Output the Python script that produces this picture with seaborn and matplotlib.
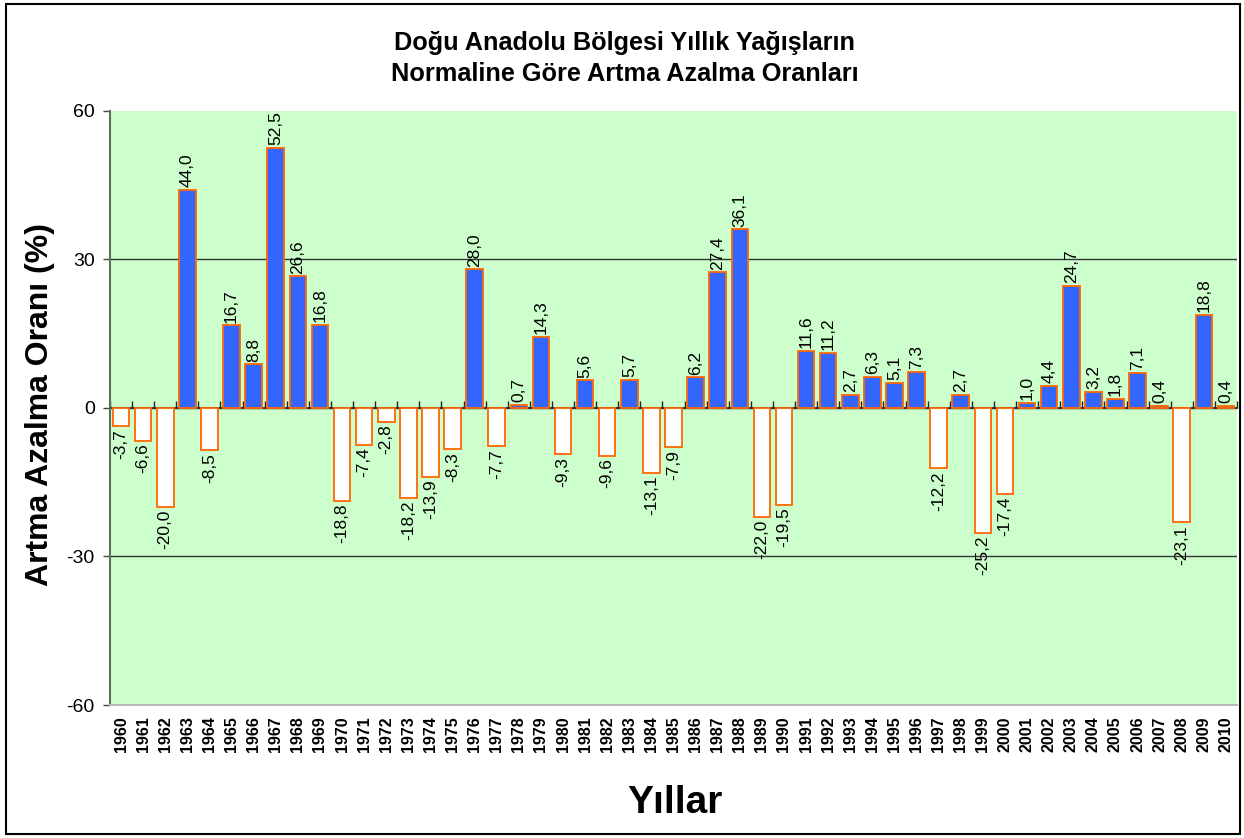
import matplotlib
matplotlib.use("Agg")
import matplotlib.pyplot as plt
from matplotlib.patches import Rectangle
import seaborn as sns
import pandas as pd

years = [str(y) for y in range(1960, 2011)]
values = [
    -3.7, -6.6, -20.0, 44.0, -8.5, 16.7, 8.8, 52.5, 26.6, 16.8,
    -18.8, -7.4, -2.8, -18.2, -13.9, -8.3, 28.0, -7.7, 0.7, 14.3,
    -9.3, 5.6, -9.6, 5.7, -13.1, -7.9, 6.2, 27.4, 36.1, -22.0,
    -19.5, 11.6, 11.2, 2.7, 6.3, 5.1, 7.3, -12.2, 2.7, -25.2,
    -17.4, 1.0, 4.4, 24.7, 3.2, 1.8, 7.1, 0.4, -23.1, 18.8,
    0.4,
]
y_ticks = [-60, -30, 0, 30, 60]

title_lines = ["Doğu Anadolu Bölgesi Yıllık Yağışların",
               "Normaline Göre Artma Azalma Oranları"]
y_title = "Artma Azalma Oranı (%)"
x_title = "Yıllar"

df = pd.DataFrame({"Yıl": years, "Oran": values})
df["Yön"] = ["artış" if v >= 0 else "azalış" for v in values]

sns.set_theme(style="white")
plt.rcParams["font.family"] = ["Liberation Sans", "DejaVu Sans"]
plt.rcParams["text.color"] = "black"
plt.rcParams["xtick.color"] = "black"
plt.rcParams["ytick.color"] = "black"

BLUE = "#3366FF"
ORANGE = "#FF6600"
PLOT_BG = "#CCFFCC"

fig = plt.figure(figsize=(12.44, 8.38), dpi=100)
fig.patch.set_facecolor("white")
ax = fig.add_axes([110 / 1244, 1 - 705 / 838, 1127 / 1244, 594 / 838])
ax.set_facecolor(PLOT_BG)

sns.barplot(data=df, x="Yıl", y="Oran", hue="Yön", order=years,
            hue_order=["artış", "azalış"],
            palette={"artış": BLUE, "azalış": "white"}, saturation=1,
            dodge=False, width=0.75, edgecolor=ORANGE, linewidth=1.3,
            legend=False, ax=ax, zorder=3)

ax.set_xlim(-0.5, len(years) - 0.5)
ax.set_ylim(-60, 60)
ax.set_yticks(y_ticks)
ax.set_yticklabels([str(t) for t in y_ticks], fontsize=14, color="black")
ax.tick_params(axis="y", direction="out", length=5, width=1, color="#444444",
               labelcolor="black", pad=6, left=True)
ax.tick_params(axis="x", length=0, pad=8, labelcolor="black")
plt.setp(ax.get_xticklabels(), rotation=90, fontsize=11.5, fontweight="bold",
         color="black")

# horizontal reference lines at the inner ticks
ax.yaxis.grid(True, color="#333333", linewidth=1)
for line, t in zip(ax.get_ygridlines(), y_ticks):
    if abs(t) == 60:
        line.set_visible(False)
ax.set_axisbelow(True)

for side in ["top", "right"]:
    ax.spines[side].set_visible(False)
ax.spines["left"].set_color("#5E6E5E")
ax.spines["left"].set_linewidth(1.5)
ax.spines["bottom"].set_color("#BBBBBB")
ax.spines["bottom"].set_linewidth(1.5)

# category axis crossing at zero, with ticks between categories
sec = ax.secondary_xaxis(0.5)
sec.set_xticks([i - 0.5 for i in range(len(years) + 1)])
sec.set_xticklabels([])
sec.tick_params(direction="out", length=5, width=1, color="#222222")
sec.spines["bottom"].set_color("#333333")
sec.spines["bottom"].set_linewidth(1.2)

# value labels
for cont in ax.containers:
    labels = [f"{v:.1f}".replace(".", ",") for v in cont.datavalues]
    ax.bar_label(cont, labels=labels, rotation=90, padding=2,
                 fontsize=12.5, color="black")

ax.set_xlabel("")
ax.set_ylabel("")

fig.text(625 / 1244, 1 - 43 / 838, title_lines[0], ha="center", va="center",
         fontsize=18.2, fontweight="bold", color="black")
fig.text(625 / 1244, 1 - 74 / 838, title_lines[1], ha="center", va="center",
         fontsize=18.2, fontweight="bold", color="black")
fig.text(40 / 1244, 1 - 405 / 838, y_title, rotation=90, ha="center",
         va="center", fontsize=23, fontweight="bold", color="black")
fig.text(675 / 1244, 1 - 803 / 838, x_title, ha="center", va="center",
         fontsize=28, fontweight="bold", color="black")

fig.patches.append(Rectangle((6 / 1244, 4 / 838), 1234 / 1244, 830 / 838,
                             transform=fig.transFigure, fill=False,
                             edgecolor="black", linewidth=1.5))

fig.savefig("out.png", dpi=100)
